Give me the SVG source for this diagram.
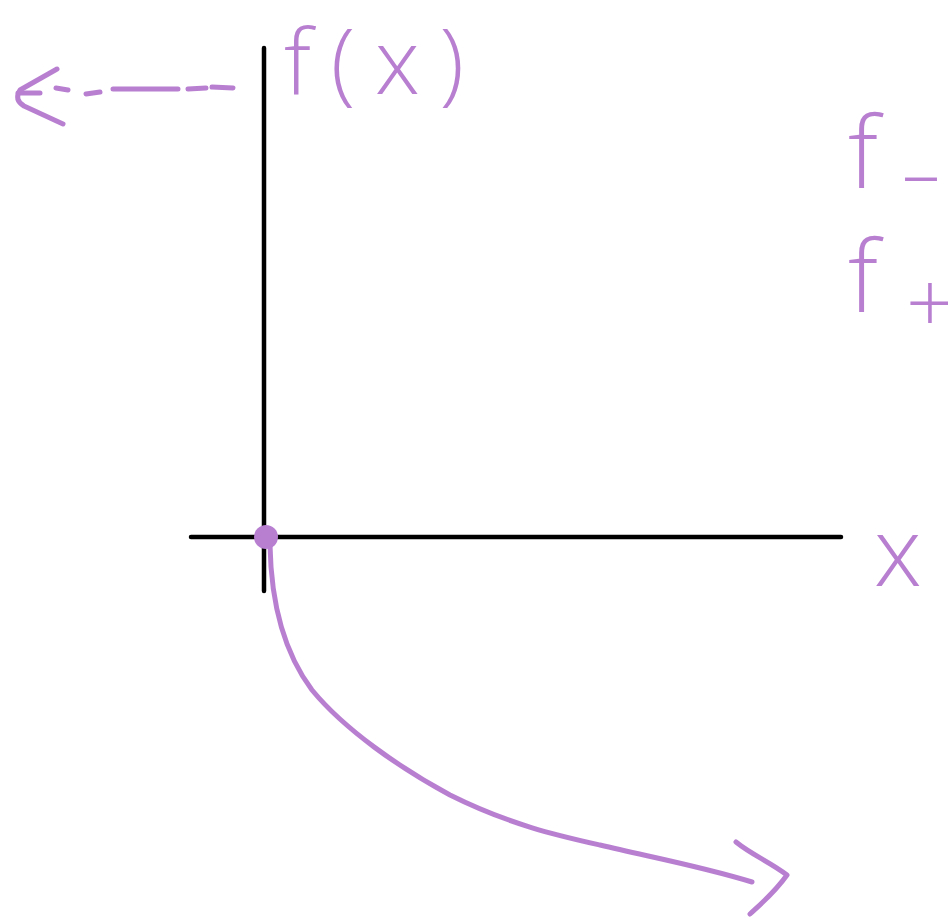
<svg xmlns="http://www.w3.org/2000/svg" width="948" height="922" viewBox="0 0 948 922">
<style>
.axis{stroke:#000;stroke-width:4.5;stroke-linecap:round;fill:none}
.pen{stroke:#b87fd1;stroke-width:5;stroke-linecap:round;stroke-linejoin:round;fill:none}
.hand{fill:#b87fd1;font-family:"Open Sans","Liberation Sans",sans-serif;font-weight:300}
</style>
<rect width="948" height="922" fill="#fff"/>
<g id="axes">
<line class="axis" x1="264" y1="48" x2="264" y2="591"/>
<line class="axis" x1="191" y1="537" x2="841" y2="537"/>
</g>
<g id="labels">
<text class="hand" x="284" y="94" font-size="90" textLength="180" lengthAdjust="spacing">f(x)</text>
<text class="hand" x="874" y="586" font-size="96">x</text>
<text class="hand" x="848" y="188" font-size="100">f</text>
<text class="hand" x="902" y="200" font-size="76">–</text>
<text class="hand" x="848" y="312" font-size="100">f</text>
<text class="hand" x="906" y="333" font-size="84">+</text>
</g>
<g id="origin">
<circle cx="266" cy="537" r="12" fill="#b87fd1"/>
</g>
<g id="connectors">
<path class="pen" d="M270,545 C271,600 282,650 312,690 C345,730 400,768 450,795 C510,825 560,836 600,845 C650,857 700,866 752,882"/>
<path class="pen" d="M736,842 C752,855 770,862 787,875 C775,892 762,903 750,914"/>
<path class="pen" d="M233,88 L212,87 M206,88 L188,89 M178,89 L113,89 M100,92 L86,94 M68,90 L56,88 M40,93 L18,93"/>
<path class="pen" d="M57,69 L20,90 Q14,100 24,106 L63,124"/>
</g>
</svg>
